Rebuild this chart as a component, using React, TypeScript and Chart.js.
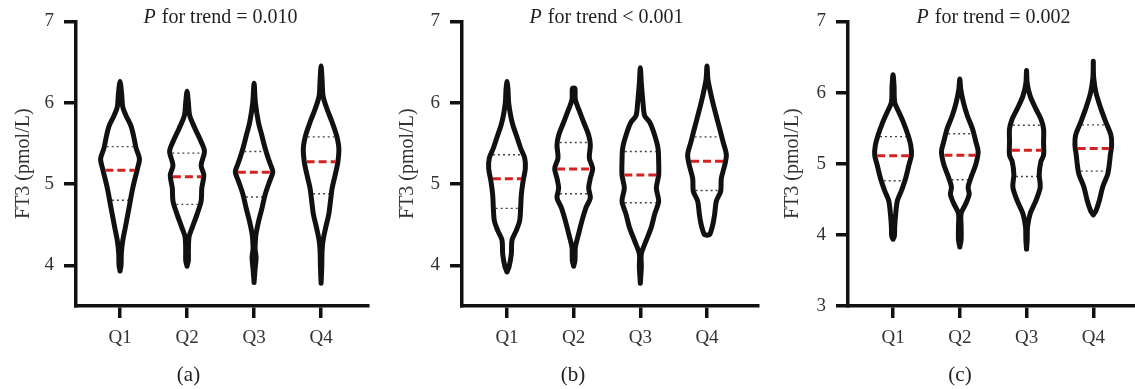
import React, { useEffect, useRef } from 'react';
import Chart from 'chart.js/auto';

const FONT = '"Liberation Serif", "DejaVu Serif", serif';

// ---- labels / ticks ----
const categories = ['Q1', 'Q2', 'Q3', 'Q4'];
const positions = [1, 2, 3, 4];
const yTicksAB = [4, 5, 6, 7];
const yTicksC = [3, 4, 5, 6, 7];
const panelLabels = ['(a)', '(b)', '(c)'];
const trendTexts = [' for trend = 0.010', ' for trend < 0.001', ' for trend = 0.002'];
const yTitle = 'FT3 (pmol/L)';

// ---- violin profiles: [FT3 value, half-width in category units], bottom -> top ----
const a_Q1 = [[3.93, 0], [4.0, 0.015], [4.15, 0.02], [4.3, 0.04], [4.47, 0.08], [4.71, 0.135], [4.95, 0.19], [5.19, 0.26], [5.31, 0.29], [5.44, 0.24], [5.6, 0.2], [5.72, 0.16], [5.84, 0.09], [5.95, 0.04], [6.1, 0.025], [6.26, 0]];
const a_Q2 = [[3.99, 0], [4.06, 0.02], [4.18, 0.02], [4.35, 0.03], [4.47, 0.08], [4.63, 0.15], [4.79, 0.21], [4.95, 0.22], [5.11, 0.25], [5.23, 0.21], [5.4, 0.26], [5.52, 0.21], [5.68, 0.12], [5.84, 0.04], [6.0, 0.02], [6.14, 0]];
const a_Q3 = [[3.79, 0], [3.95, 0.015], [4.1, 0.03], [4.2, 0.015], [4.3, 0.02], [4.39, 0.03], [4.55, 0.07], [4.71, 0.12], [4.87, 0.165], [5.03, 0.23], [5.15, 0.28], [5.25, 0.24], [5.32, 0.21], [5.44, 0.165], [5.6, 0.115], [5.76, 0.065], [6.0, 0.02], [6.24, 0]];
const a_Q4 = [[3.78, 0], [3.98, 0.01], [4.18, 0.015], [4.31, 0.03], [4.47, 0.07], [4.63, 0.115], [4.79, 0.14], [4.95, 0.165], [5.11, 0.21], [5.27, 0.25], [5.44, 0.265], [5.6, 0.23], [5.76, 0.165], [5.92, 0.09], [6.08, 0.03], [6.28, 0.015], [6.45, 0]];

const b_Q1 = [[3.92, 0], [3.98, 0.03], [4.14, 0.065], [4.31, 0.075], [4.43, 0.14], [4.55, 0.19], [4.71, 0.205], [4.87, 0.215], [5.03, 0.24], [5.19, 0.275], [5.32, 0.265], [5.44, 0.205], [5.6, 0.14], [5.72, 0.09], [5.84, 0.055], [6.0, 0.025], [6.16, 0.015], [6.26, 0]];
const b_Q2 = [[3.99, 0], [4.06, 0.02], [4.22, 0.025], [4.39, 0.075], [4.55, 0.125], [4.71, 0.185], [4.83, 0.25], [4.95, 0.225], [5.07, 0.25], [5.19, 0.285], [5.32, 0.235], [5.48, 0.25], [5.6, 0.225], [5.76, 0.15], [5.92, 0.075], [6.04, 0.025], [6.17, 0.02], [6.18, 0]];
const b_Q3 = [[3.78, 0], [3.98, 0.015], [4.14, 0.015], [4.31, 0.09], [4.47, 0.165], [4.63, 0.215], [4.79, 0.275], [4.95, 0.24], [5.11, 0.275], [5.27, 0.275], [5.44, 0.265], [5.6, 0.215], [5.76, 0.14], [5.84, 0.065], [6.0, 0.04], [6.24, 0.015], [6.43, 0]];
const b_Q4 = [[4.37, 0], [4.38, 0.04], [4.42, 0.06], [4.51, 0.09], [4.63, 0.115], [4.79, 0.14], [4.91, 0.205], [5.07, 0.215], [5.23, 0.265], [5.36, 0.29], [5.52, 0.24], [5.68, 0.19], [5.88, 0.125], [6.08, 0.065], [6.28, 0.015], [6.45, 0]];

const c_Q1 = [[3.94, 0], [3.98, 0.02], [4.12, 0.025], [4.3, 0.04], [4.48, 0.065], [4.62, 0.125], [4.8, 0.19], [4.99, 0.24], [5.12, 0.275], [5.26, 0.265], [5.4, 0.225], [5.58, 0.155], [5.72, 0.09], [5.86, 0.025], [6.09, 0.015], [6.25, 0]];
const c_Q2 = [[3.83, 0], [3.93, 0.02], [4.11, 0.02], [4.3, 0.02], [4.44, 0.09], [4.57, 0.14], [4.67, 0.125], [4.8, 0.165], [4.99, 0.24], [5.17, 0.275], [5.31, 0.24], [5.49, 0.19], [5.67, 0.115], [5.86, 0.055], [6.04, 0.015], [6.19, 0]];
const c_Q3 = [[3.8, 0], [3.93, 0.01], [4.11, 0.015], [4.3, 0.055], [4.48, 0.14], [4.67, 0.205], [4.85, 0.19], [5.03, 0.215], [5.12, 0.255], [5.31, 0.255], [5.49, 0.255], [5.63, 0.215], [5.77, 0.14], [5.95, 0.055], [6.13, 0.01], [6.31, 0]];
const c_Q4 = [[4.28, 0], [4.34, 0.04], [4.48, 0.09], [4.67, 0.14], [4.85, 0.215], [4.99, 0.24], [5.12, 0.255], [5.26, 0.275], [5.4, 0.265], [5.58, 0.19], [5.77, 0.115], [6.0, 0.04], [6.22, 0.005], [6.44, 0]];

// ---- medians and quartiles ----
const a_median = [5.17, 5.09, 5.145, 5.275];
const a_lowerQ = [4.8, 4.75, 4.84, 4.88];
const a_upperQ = [5.46, 5.38, 5.4, 5.58];
const b_median = [5.065, 5.185, 5.11, 5.28];
const b_lowerQ = [4.7, 4.88, 4.77, 4.92];
const b_upperQ = [5.36, 5.51, 5.4, 5.58];
const c_median = [5.11, 5.12, 5.19, 5.215];
const c_lowerQ = [4.76, 4.775, 4.82, 4.895];
const c_upperQ = [5.38, 5.42, 5.54, 5.545];

type Prof = number[][];

const panels = [
  { violins: [a_Q1, a_Q2, a_Q3, a_Q4], median: a_median, lowerQ: a_lowerQ, upperQ: a_upperQ, yTicks: yTicksAB, yMin: 3.5,
    left: 0, width: 380, yAxisWidth: 76, padRight: 12, yTitlePad: 12, xMin: 0.343, xMax: 4.7, titleX: 220, labelX: 188.5 },
  { violins: [b_Q1, b_Q2, b_Q3, b_Q4], median: b_median, lowerQ: b_lowerQ, upperQ: b_upperQ, yTicks: yTicksAB, yMin: 3.5,
    left: 380, width: 380, yAxisWidth: 82, padRight: 2, yTitlePad: 16, xMin: 0.325, xMax: 4.765, titleX: 226, labelX: 193 },
  { violins: [c_Q1, c_Q2, c_Q3, c_Q4], median: c_median, lowerQ: c_lowerQ, upperQ: c_upperQ, yTicks: yTicksC, yMin: 3,
    left: 760, width: 375, yAxisWidth: 88, padRight: 1, yTitlePad: 21, xMin: 0.325, xMax: 4.61, titleX: 233, labelX: 200 },
];

function widthAt(prof: Prof, v: number) {
  for (let i = 0; i < prof.length - 1; i++) {
    const [v0, w0] = prof[i];
    const [v1, w1] = prof[i + 1];
    if (v >= v0 && v <= v1) return w0 + ((w1 - w0) * (v - v0)) / (v1 - v0);
  }
  return 0;
}

function outline(pos: number, prof: Prof) {
  const right = prof.map(([v, w]) => ({ x: pos + w, y: v }));
  const left = prof.slice(0, -1).reverse().map(([v, w]) => ({ x: pos - w, y: v }));
  return [...right, ...left];
}

const INNER = 0.035;

const textPlugin = {
  id: 'panelText',
  afterDraw(chart: any, _args: any, opts: any) {
    const { ctx } = chart;
    ctx.save();
    ctx.fillStyle = '#222';
    ctx.textBaseline = 'alphabetic';
    ctx.textAlign = 'left';
    const italic = `italic 20px ${FONT}`;
    const normal = `20px ${FONT}`;
    ctx.font = italic;
    const wP = ctx.measureText('P').width;
    ctx.font = normal;
    const wRest = ctx.measureText(opts.rest).width;
    const x0 = opts.titleX - (wP + wRest) / 2;
    ctx.font = italic;
    ctx.fillText('P', x0, opts.titleY);
    ctx.font = normal;
    ctx.fillText(opts.rest, x0 + wP + 1, opts.titleY);
    ctx.textAlign = 'center';
    ctx.font = `21px ${FONT}`;
    ctx.fillText(opts.label, opts.labelX, opts.labelY);
    ctx.restore();
  },
};

function Panel({ idx }: { idx: number }) {
  const ref = useRef<HTMLCanvasElement>(null);
  const p = panels[idx];
  useEffect(() => {
    if (!ref.current) return;
    const datasets: any[] = [];
    p.violins.forEach((prof, i) => {
      const pos = positions[i];
      const lines = [
        { v: p.lowerQ[i], color: '#444', width: 1.4, dash: [2, 3] },
        { v: p.upperQ[i], color: '#444', width: 1.4, dash: [2, 3] },
        { v: p.median[i], color: '#d42222', width: 3, dash: [8, 4] },
      ];
      lines.forEach((l) => {
        const w = Math.max(widthAt(prof, l.v) - INNER, 0);
        datasets.push({
          data: [{ x: pos - w, y: l.v }, { x: pos + w, y: l.v }],
          showLine: true, borderColor: l.color, borderWidth: l.width, borderDash: l.dash,
          pointRadius: 0, fill: false, tension: 0,
        });
      });
      datasets.push({
        data: outline(pos, prof),
        showLine: true, borderColor: '#111', borderWidth: 5, borderJoinStyle: 'round', borderCapStyle: 'round',
        pointRadius: 0, fill: false, tension: 0.3,
      });
    });
    const axisColor = '#111';
    const chart = new Chart(ref.current, {
      type: 'scatter',
      data: { datasets },
      options: {
        responsive: false,
        devicePixelRatio: 1,
        animation: false,
        events: [],
        layout: { padding: { top: 16, right: p.padRight, bottom: 0, left: 0 } },
        plugins: {
          legend: { display: false },
          tooltip: { enabled: false },
          panelText: { rest: trendTexts[idx], titleX: p.titleX, titleY: 23, label: panelLabels[idx], labelX: p.labelX, labelY: 381 },
        } as any,
        scales: {
          x: {
            type: 'linear', min: p.xMin, max: p.xMax,
            afterBuildTicks: (s: any) => { s.ticks = positions.map((v) => ({ value: v })); },
            afterFit: (s: any) => { s.height = 83; },
            ticks: {
              callback: (v: any) => categories[positions.indexOf(Number(v))] ?? '',
              font: { family: FONT, size: 19 }, color: '#333', padding: 9, autoSkip: false, maxRotation: 0,
            },
            grid: { display: true, drawOnChartArea: false, drawTicks: true, tickLength: 12, color: axisColor, lineWidth: 3.5 },
            border: { display: true, color: axisColor, width: 3.5 },
          },
          y: {
            type: 'linear', min: p.yMin, max: 7,
            afterBuildTicks: (s: any) => { s.ticks = p.yTicks.map((v) => ({ value: v })); },
            afterFit: (s: any) => { s.width = p.yAxisWidth; },
            ticks: { callback: (v: any) => String(v), font: { family: FONT, size: 19 }, color: '#333', padding: 10 },
            grid: { display: true, drawOnChartArea: false, drawTicks: true, tickLength: 12, color: axisColor, lineWidth: 3.5 },
            border: { display: true, color: axisColor, width: 3.5 },
            title: { display: true, text: yTitle, font: { family: FONT, size: 20 }, color: '#333', padding: { top: p.yTitlePad, bottom: 0 } },
          },
        },
      },
      plugins: [textPlugin],
    });
    return () => chart.destroy();
  }, []);
  return (
    <div style={{ position: 'absolute', left: p.left, top: 0, width: p.width, height: 389 }}>
      <canvas ref={ref} width={p.width} height={389} style={{ width: p.width, height: 389, display: 'block' }} />
    </div>
  );
}

export default function App() {
  return (
    <div style={{ position: 'absolute', left: 0, top: 0, width: 1135, height: 389, background: '#fff' }}>
      <Panel idx={0} />
      <Panel idx={1} />
      <Panel idx={2} />
    </div>
  );
}
